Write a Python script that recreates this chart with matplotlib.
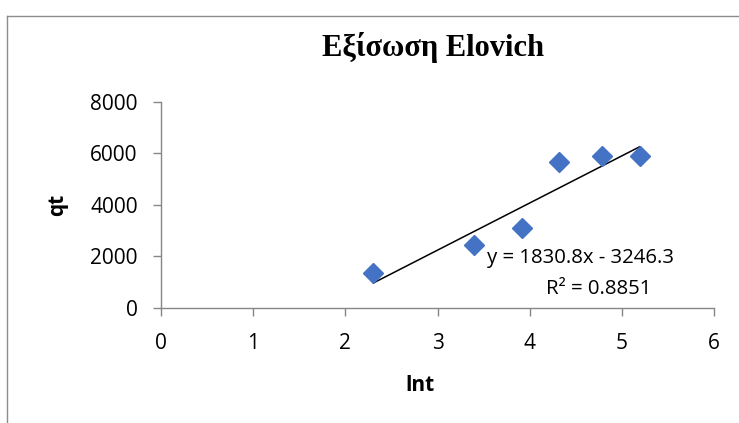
import matplotlib.pyplot as plt
from matplotlib.lines import Line2D
import numpy as np

# kinetics data (ln t vs qt)
lnt = [2.303, 3.401, 3.912, 4.317, 4.787, 5.193]
qt = [1350, 2450, 3100, 5650, 5900, 5900]
slope = 1830.8
intercept = -3246.3
r2 = 0.8851

x_ticks = [0, 1, 2, 3, 4, 5, 6]
y_ticks = [0, 2000, 4000, 6000, 8000]

fig = plt.figure(figsize=(7.39, 4.23), dpi=100)
ax = fig.add_axes([0.2179, 0.2719, 0.7483, 0.487])

ax.plot(lnt, qt, linestyle='none', marker='D', markersize=10,
        color='#4472C4', zorder=3)

# linear trendline
xl = np.array([lnt[0], lnt[-1]])
ax.plot(xl, slope * xl + intercept, color='black', lw=1.1, zorder=2)

ax.set_xlim(0, 6)
ax.set_ylim(0, 8000)
ax.set_xticks(x_ticks)
ax.set_yticks(y_ticks)

for s in ['top', 'right']:
    ax.spines[s].set_visible(False)
for s in ['left', 'bottom']:
    ax.spines[s].set_color('#868686')
    ax.spines[s].set_linewidth(1.0)
ax.tick_params(direction='out', length=5.8, width=1, color='#868686',
               labelsize=15)
ax.tick_params(axis='y', pad=11)
ax.tick_params(axis='x', pad=12)
for lab in ax.get_xticklabels() + ax.get_yticklabels():
    lab.set_family('Open Sans')

ax.set_xlabel('lnt', family='Open Sans', fontweight='bold', fontsize=15)
ax.set_ylabel('qt', family='Open Sans', fontweight='bold', fontsize=15)
ax.xaxis.set_label_coords(0.468, -0.325)
ax.yaxis.set_label_coords(-0.168, 0.5)

fig.text(0.5866, 0.888, 'Εξίσωση Elovich', family='Liberation Serif',
         fontweight='bold', fontsize=22, ha='center', va='center')

fig.text(0.912, 0.39, 'y = %.1fx - %.1f' % (slope, -intercept),
         family='Open Sans', fontsize=14.7, ha='right', va='center')
fig.text(0.882, 0.317, 'R² = %.4f' % r2,
         family='Open Sans', fontsize=14.7, ha='right', va='center')

# chart area frame
fig.add_artist(Line2D([7 / 739, 7 / 739], [0, 1 - 16 / 423],
                      transform=fig.transFigure, color='#8c8c8c', lw=1))
fig.add_artist(Line2D([7 / 739, 1], [1 - 16 / 423, 1 - 16 / 423],
                      transform=fig.transFigure, color='#8c8c8c', lw=1))

fig.savefig('out.png', dpi=100)
